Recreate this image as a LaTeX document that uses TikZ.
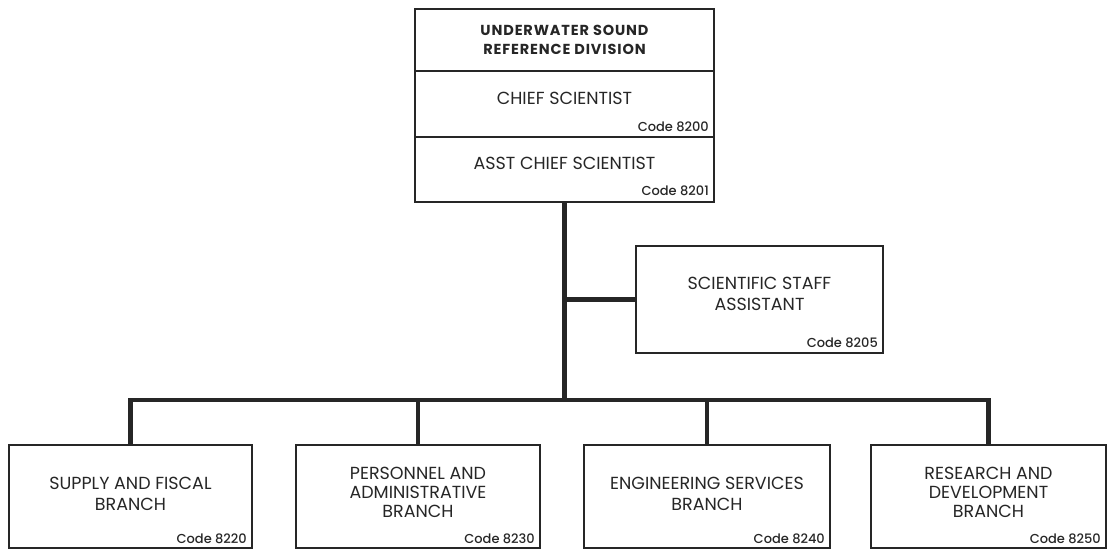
\documentclass[tikz,border=0pt]{standalone}
\usepackage{fontspec}
\setmainfont{Poppins}
\newfontfamily\titlefont[LetterSpace=6]{Poppins}
\newfontfamily\codefont{Poppins Medium}
\usetikzlibrary{positioning}
\tikzset{
  orgbox/.style={draw=black!85,line width=1.3pt,inner sep=0pt,outer sep=0pt},
  boxtext/.style={align=center,inner sep=0pt,font=\fontsize{17.5}{21}\selectfont,text=black!85},
  titletext/.style={align=center,inner sep=0pt,font=\titlefont\bfseries\fontsize{14.5}{18.5}\selectfont,text=black!85},
  codetext/.style={anchor=base east,inner sep=0pt,font=\codefont\fontsize{13}{15}\selectfont,text=black!85},
  orgline/.style={line width=4.8pt,draw=black!85}
}
\begin{document}
\begin{tikzpicture}[x=1pt,y=-1pt]
\useasboundingbox (0,0) rectangle (1109,551);
\node[orgbox,minimum width=299pt,minimum height=62pt] (div) at (564.5,40) {};
\node[orgbox,minimum width=299pt,minimum height=66pt,below=0pt of div] (chief) {};
\node[orgbox,minimum width=299pt,minimum height=65pt,below=0pt of chief] (asst) {};
\node[titletext] (divt) at (div.center) {UNDERWATER SOUND\\REFERENCE DIVISION};
\node[boxtext] (chieft) at ([yshift=5.5pt]chief.center) {CHIEF SCIENTIST};
\node[codetext] (chiefc) at ([xshift=-5pt,yshift=6pt]chief.south east) {Code 8200};
\node[boxtext] (asstt) at ([yshift=6.5pt]asst.center) {ASST CHIEF SCIENTIST};
\node[codetext] (asstc) at ([xshift=-5pt,yshift=7pt]asst.south east) {Code 8201};
\node[orgbox,minimum width=247pt,minimum height=107pt] (staff) at (759.5,299.5) {};
\node[boxtext] (stafft) at ([yshift=6pt]staff.center) {SCIENTIFIC STAFF\\ASSISTANT};
\node[codetext] (staffc) at ([xshift=-5pt,yshift=6pt]staff.south east) {Code 8205};
\node[orgbox,minimum width=243pt,minimum height=103pt] (supply) at (130.5,496.5) {};
\node[orgbox,minimum width=244pt,minimum height=103pt] (pers) at (418,496.5) {};
\node[orgbox,minimum width=246pt,minimum height=103pt] (eng) at (707,496.5) {};
\node[orgbox,minimum width=235pt,minimum height=103pt] (rd) at (988.5,496.5) {};
\node[boxtext] (supplyt) at ([yshift=3pt]supply.center) {SUPPLY AND FISCAL\\BRANCH};
\node[boxtext,font=\fontsize{17.5}{19}\selectfont] (perst) at ([yshift=4pt]pers.center) {PERSONNEL AND\\ADMINISTRATIVE\\BRANCH};
\node[boxtext] (engt) at ([yshift=3pt]eng.center) {ENGINEERING SERVICES\\BRANCH};
\node[boxtext,font=\fontsize{17.5}{19}\selectfont] (rdt) at ([yshift=4pt]rd.center) {RESEARCH AND\\DEVELOPMENT\\BRANCH};
\node[codetext] (supplyc) at ([xshift=-5pt,yshift=4.5pt]supply.south east) {Code 8220};
\node[codetext] (persc) at ([xshift=-5pt,yshift=4.5pt]pers.south east) {Code 8230};
\node[codetext] (engc) at ([xshift=-5pt,yshift=4.5pt]eng.south east) {Code 8240};
\node[codetext] (rdc) at ([xshift=-5pt,yshift=4.5pt]rd.south east) {Code 8250};
\coordinate (bus) at (asst.south |- 0,400);
\draw[orgline] (asst.south) -- (bus);
\draw[orgline] (asst.south |- staff.west) -- (staff.west);
\draw[orgline,line cap=rect] (supply.north |- bus) -- (rd.north |- bus);
\foreach \b in {supply,pers,eng,rd}
  \draw[orgline] (\b.north |- bus) -- (\b.north);
\end{tikzpicture}
\end{document}
